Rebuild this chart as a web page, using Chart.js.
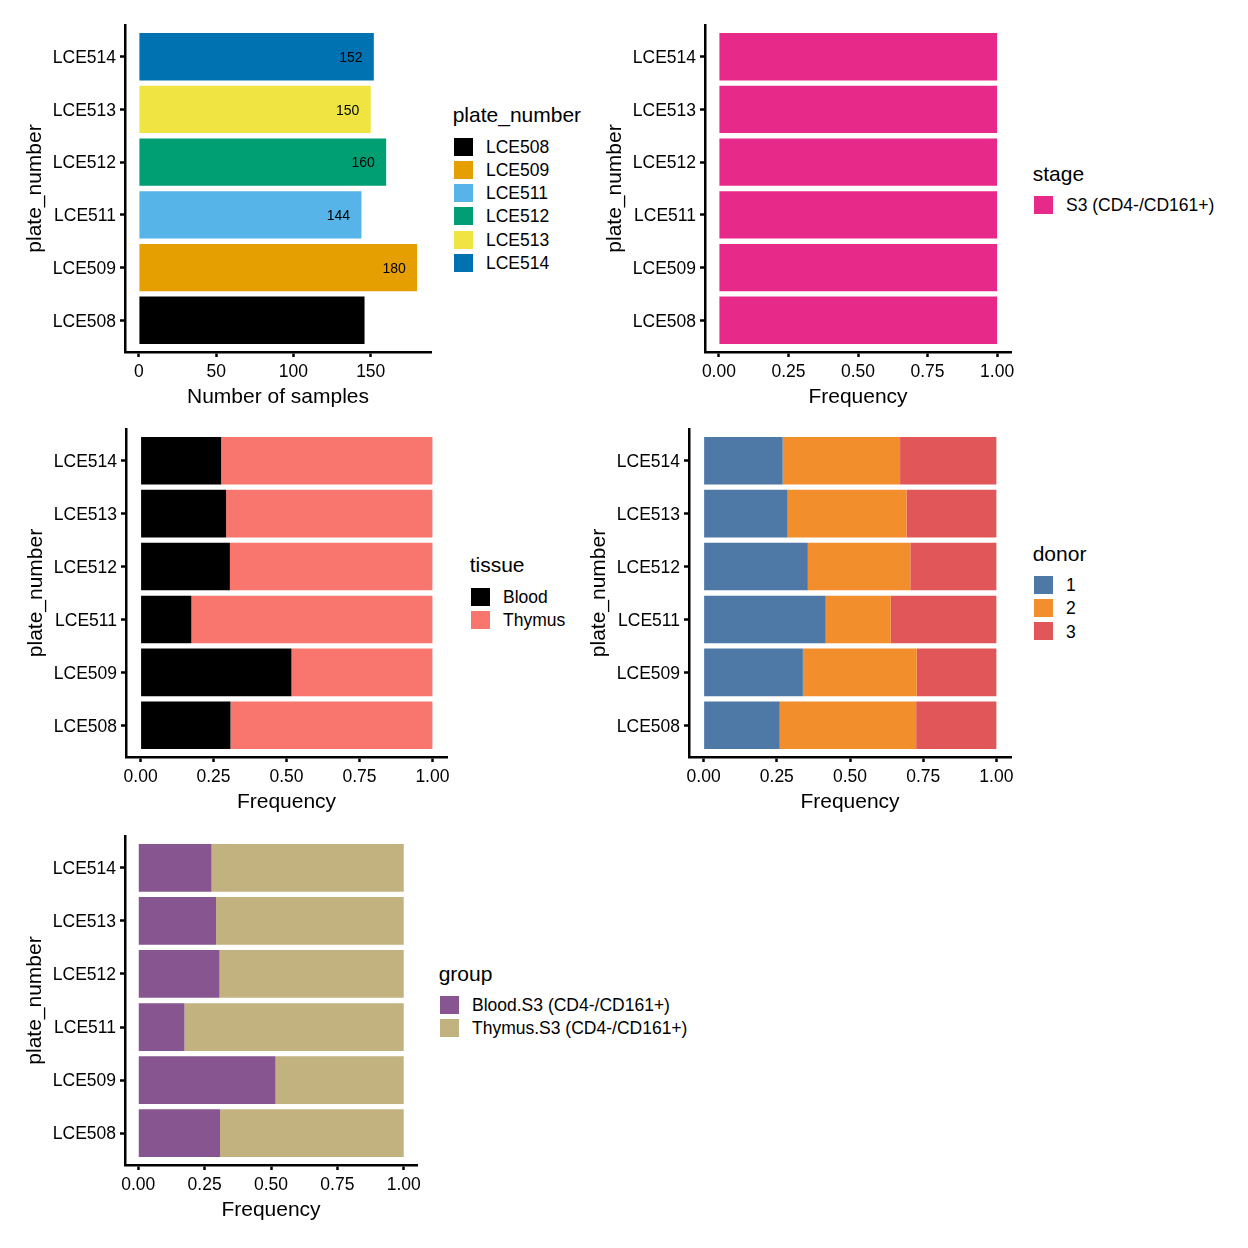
<!DOCTYPE html>
<html><head><meta charset="utf-8">
<script src="https://cdn.jsdelivr.net/npm/chart.js@4"></script>
<style>
body{margin:0;background:#fff;width:1248px;height:1248px;position:relative;overflow:hidden;font-family:"Liberation Sans",Arial,Helvetica,sans-serif;}
canvas{position:absolute;}
.lt{position:absolute;white-space:nowrap;color:#000;}
.key{position:absolute;}
</style></head><body>
<script>
// ---------- data ----------
const plates = ['LCE508','LCE509','LCE511','LCE512','LCE513','LCE514'];
const sampleCounts = [146,180,144,160,150,152];
const plateColors = ['#000000','#E69F00','#56B4E9','#009E73','#F0E442','#0072B2'];

const stageNames = ['S3 (CD4-/CD161+)'];
const stageColors = ['#E7298A'];
const stageS3Freq = [1,1,1,1,1,1];

const tissueNames = ['Blood','Thymus'];
const tissueColors = ['#000000','#F8766D'];
const bloodFreq  = [0.308,0.517,0.174,0.306,0.293,0.276];
const thymusFreq = [0.692,0.483,0.826,0.694,0.707,0.724];

const donorNames = ['1','2','3'];
const donorColors = ['#4E79A7','#F28E2B','#E15759'];
const donor1Freq = [0.260,0.339,0.417,0.356,0.287,0.270];
const donor2Freq = [0.466,0.389,0.222,0.350,0.406,0.401];
const donor3Freq = [0.274,0.272,0.361,0.294,0.307,0.329];

const groupNames = ['Blood.S3 (CD4-/CD161+)','Thymus.S3 (CD4-/CD161+)'];
const groupColors = ['#87558F','#C2B280'];
const groupBloodFreq  = [0.308,0.517,0.174,0.306,0.293,0.276];
const groupThymusFreq = [0.692,0.483,0.826,0.694,0.707,0.724];

const countTicks = [0,50,100,150];
const freqTicks = [0,0.25,0.5,0.75,1];

// ---------- helpers ----------
const FF = '"Liberation Sans", Arial, Helvetica, sans-serif';
Chart.defaults.font.family = FF;

function pts(arr){ return arr.map((v,i)=>({x:v, y:i+1})); }
function ds(arr, color){ return {data:pts(arr), backgroundColor:color, borderWidth:0}; }

const valueLabels = {
  id:'valueLabels',
  afterDatasetsDraw(chart){
    const ctx = chart.ctx, meta = chart.getDatasetMeta(0);
    ctx.save();
    ctx.font = '14px ' + FF; ctx.fillStyle = '#000';
    ctx.textAlign = 'center'; ctx.textBaseline = 'middle';
    meta.data.forEach((el,i)=>{ ctx.fillText(String(sampleCounts[i]), el.x - 23, el.y + 1.5); });
    ctx.restore();
  }
};

function makePanel(o){
  const cx = o.L - 125, cy = o.T - 25;
  const w = Math.round(o.R - o.L + 135), h = Math.round(o.B - o.T + 25 + 62);
  const c = document.createElement('canvas');
  c.width = w; c.height = h;
  c.style.left = cx + 'px'; c.style.top = cy + 'px';
  c.style.width = w + 'px'; c.style.height = h + 'px';
  document.body.appendChild(c);
  new Chart(c, {
    type:'bar',
    data:{datasets:o.datasets},
    options:{
      indexAxis:'y', responsive:false, animation:false, devicePixelRatio:1,
      layout:{padding:{left:0, top:25, right:10, bottom:0}},
      plugins:{legend:{display:false}, tooltip:{enabled:false}},
      datasets:{bar:{categoryPercentage:1, barPercentage:0.9}},
      scales:{
        x:{
          type:'linear', min:o.xmin, max:o.xmax, stacked:true, offset:false,
          afterFit:s=>{ s.height = 62; },
          afterBuildTicks:s=>{ s.ticks = o.xticks.map(v=>({value:v})); },
          ticks:{callback:o.fmt, font:{size:17.5}, color:'#000', padding:5, maxRotation:0, autoSkip:false},
          grid:{display:true, offset:false, drawOnChartArea:false, drawTicks:true, tickLength:5, tickWidth:2.5, tickColor:'#000'},
          border:{display:true, color:'#000', width:2.5},
          title:{display:true, text:o.xTitle, font:{size:21}, color:'#000', padding:{top:0, bottom:4}}
        },
        y:{
          type:'linear', min:0.4, max:6.6, stacked:true, offset:false,
          afterFit:s=>{ s.width = 125; },
          afterBuildTicks:s=>{ s.ticks = plates.map((p,i)=>({value:i+1})); },
          ticks:{callback:v=>plates[v-1], font:{size:17.5}, color:'#000', padding:4, autoSkip:false, labelOffset:1.5},
          grid:{display:true, offset:false, drawOnChartArea:false, drawTicks:true, tickLength:5, tickWidth:2.5, tickColor:'#000'},
          border:{display:true, color:'#000', width:2.5},
          title:{display:true, text:'plate_number', font:{size:21}, color:'#000', padding:{top:22.4, bottom:0}}
        }
      }
    },
    plugins: o.plugins || []
  });
}

function addText(txt, left, baseline, size){
  const d = document.createElement('div');
  d.className = 'lt'; d.textContent = txt;
  d.style.fontSize = size + 'px'; d.style.lineHeight = size + 'px';
  d.style.left = left + 'px'; d.style.top = (baseline - 0.8465*size) + 'px';
  document.body.appendChild(d);
}
function legend(keyLeft, titleBaseline, title, names, colors){
  addText(title, keyLeft - 1.3, titleBaseline + 2, 21);
  names.forEach((n,i)=>{
    const cyk = titleBaseline + 26.5 + i*23.2;
    const k = document.createElement('div');
    k.className = 'key';
    k.style.left = keyLeft + 'px'; k.style.top = (cyk - 9) + 'px';
    k.style.width = '19px'; k.style.height = '18px'; k.style.background = colors[i];
    document.body.appendChild(k);
    addText(n, keyLeft + 32, cyk + 7, 17.5);
  });
}

const fmt2 = v => Number(v).toFixed(2);
const fmt0 = v => String(v);

// Panel 1: counts
makePanel({L:125, T:25, R:431, B:352, xmin:-9, xmax:189, xticks:countTicks, fmt:fmt0,
  xTitle:'Number of samples',
  datasets:[ds(sampleCounts, plateColors)], plugins:[valueLabels]});
legend(454, 120.2, 'plate_number', plates, plateColors);

// Panel 2: stage
makePanel({L:705, T:25, R:1011, B:352, xmin:-0.05, xmax:1.05, xticks:freqTicks, fmt:fmt2,
  xTitle:'Frequency', datasets:[ds(stageS3Freq, stageColors[0])]});
legend(1034, 178.5, 'stage', stageNames, stageColors);

// Panel 3: tissue
makePanel({L:126, T:429, R:447, B:757, xmin:-0.05, xmax:1.05, xticks:freqTicks, fmt:fmt2,
  xTitle:'Frequency', datasets:[ds(bloodFreq, tissueColors[0]), ds(thymusFreq, tissueColors[1])]});
legend(471, 570.2, 'tissue', tissueNames, tissueColors);

// Panel 4: donor
makePanel({L:689, T:429, R:1011, B:757, xmin:-0.05, xmax:1.05, xticks:freqTicks, fmt:fmt2,
  xTitle:'Frequency', datasets:[ds(donor1Freq, donorColors[0]), ds(donor2Freq, donorColors[1]), ds(donor3Freq, donorColors[2])]});
legend(1034, 558.5, 'donor', donorNames, donorColors);

// Panel 5: group
makePanel({L:125, T:836, R:417, B:1165, xmin:-0.05, xmax:1.05, xticks:freqTicks, fmt:fmt2,
  xTitle:'Frequency', datasets:[ds(groupBloodFreq, groupColors[0]), ds(groupThymusFreq, groupColors[1])]});
legend(440, 978.5, 'group', groupNames, groupColors);
</script>
</body></html>
